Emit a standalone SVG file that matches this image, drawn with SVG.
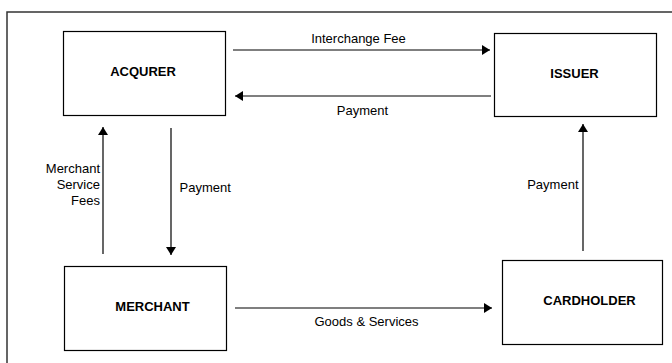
<svg xmlns="http://www.w3.org/2000/svg" width="672" height="363" viewBox="0 0 672 363">
<defs>
<style>
.box{fill:#fff;stroke:#000;stroke-width:1.2}
.frame{fill:#fff;stroke:#333;stroke-width:1.5}
.conn{stroke:#000;stroke-width:1.2;fill:none;marker-end:url(#ah)}
.lbl{font-family:"Liberation Sans",Arial,sans-serif;font-size:13px;fill:#000}
.name{font-family:"Liberation Sans",Arial,sans-serif;font-size:13px;font-weight:bold;fill:#000;text-anchor:middle}
</style>
<marker id="ah" markerUnits="userSpaceOnUse" markerWidth="10" markerHeight="10" refX="8" refY="5" orient="auto">
<path d="M0,0 L8,5 L0,10 Z" fill="#000"/>
</marker>
</defs>
<rect class="frame" x="7" y="12" width="690" height="370"/>
<g id="acqurer">
<rect class="box" x="63.5" y="31.5" width="162" height="84"/>
<text class="name" x="143" y="76">ACQURER</text>
</g>
<g id="issuer">
<rect class="box" x="494.5" y="33.5" width="162" height="83"/>
<text class="name" x="574.5" y="78">ISSUER</text>
</g>
<g id="merchant">
<rect class="box" x="64.5" y="266.5" width="162" height="84"/>
<text class="name" x="152.5" y="310.5">MERCHANT</text>
</g>
<g id="cardholder">
<rect class="box" x="502.5" y="260.5" width="160" height="84"/>
<text class="name" x="589.5" y="304.5">CARDHOLDER</text>
</g>
<g id="connectors">
<line class="conn" x1="233" y1="50" x2="490" y2="50"/>
<text class="lbl" x="358.5" y="42.5" text-anchor="middle">Interchange Fee</text>
<line class="conn" x1="491" y1="96" x2="235" y2="96"/>
<text class="lbl" x="362.5" y="114.5" text-anchor="middle">Payment</text>
<line class="conn" x1="103" y1="254" x2="103" y2="127"/>
<text class="lbl" x="100" y="172.5" text-anchor="end">Merchant</text>
<text class="lbl" x="100" y="188.5" text-anchor="end">Service</text>
<text class="lbl" x="100" y="204.5" text-anchor="end">Fees</text>
<line class="conn" x1="171" y1="128" x2="171" y2="255"/>
<text class="lbl" x="179.5" y="192">Payment</text>
<line class="conn" x1="235" y1="308" x2="492" y2="308"/>
<text class="lbl" x="366.5" y="325.5" text-anchor="middle">Goods &amp; Services</text>
<line class="conn" x1="583" y1="251" x2="583" y2="124"/>
<text class="lbl" x="578.5" y="188.5" text-anchor="end">Payment</text>
</g>
</svg>
